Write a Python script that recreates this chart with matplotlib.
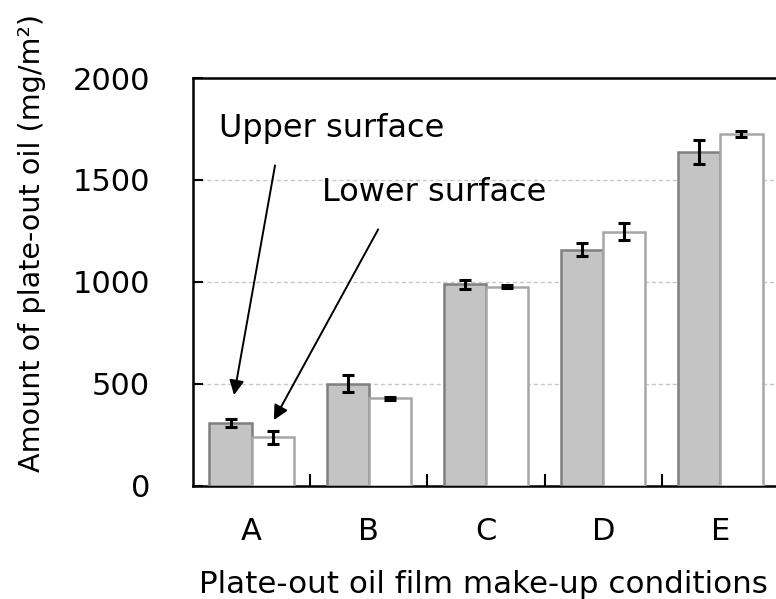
import numpy as np
import matplotlib
matplotlib.use("Agg")
import matplotlib.pyplot as plt

categories = ["A", "B", "C", "D", "E"]
upper_vals = [305, 500, 988, 1158, 1636]
upper_err = [20, 43, 22, 34, 58]
lower_vals = [236, 428, 976, 1246, 1726]
lower_err = [30, 8, 6, 40, 15]
yticks = [0, 500, 1000, 1500, 2000]

plt.rcParams["font.family"] = ["DejaVu Sans"]
FS = 22

W, H = 776, 599
fig = plt.figure(figsize=(W / 100, H / 100), dpi=100)
ax = fig.add_axes([193 / W, (H - 485.5) / H, 586 / W, (485.5 - 78) / H])

x = np.arange(len(categories))
bw = 0.36
ax.bar(x - bw / 2, upper_vals, bw, color="#c4c4c4", edgecolor="#7f7f7f",
       linewidth=1.8, zorder=3)
ax.bar(x + bw / 2, lower_vals, bw, color="white", edgecolor="#a6a6a6",
       linewidth=1.8, zorder=3)
ax.errorbar(x - bw / 2, upper_vals, yerr=upper_err, fmt="none", ecolor="black",
            elinewidth=2.2, capsize=4.5, capthick=2.2, zorder=4)
ax.errorbar(x + bw / 2, lower_vals, yerr=lower_err, fmt="none", ecolor="black",
            elinewidth=2.2, capsize=4.5, capthick=2.2, zorder=4)

ax.set_xlim(-0.5, len(categories) - 0.5)
ax.set_ylim(0, 2000)
ax.set_yticks(yticks)
ax.set_yticklabels([str(v) for v in yticks], fontsize=FS)
for v in yticks[1:-1]:
    ax.axhline(v, color="#c8c8c8", linestyle=(0, (3, 2)), linewidth=1.0, zorder=1)

# boundary ticks between groups, labels centred under each group
ax.set_xticks(x[:-1] + 0.5)
ax.set_xticklabels([])
ax.set_xticks(x, minor=True)
ax.set_xticklabels(categories, minor=True, fontsize=FS)
ax.tick_params(axis="x", which="major", direction="in", length=9, width=1.5)
ax.tick_params(axis="x", which="minor", length=0, pad=23)
ax.tick_params(axis="y", direction="in", length=7, width=1.5, pad=31)

for side in ("left", "top", "bottom"):
    ax.spines[side].set_linewidth(1.8)
    ax.spines[side].set_color("black")
ax.spines["right"].set_visible(False)

ax.set_xlabel("Plate-out oil film make-up conditions", fontsize=22.3)
ax.xaxis.set_label_coords(0.495, -0.208)
ax.set_ylabel("Amount of plate-out oil (mg/m²)", fontsize=20.6)
ax.yaxis.set_label_coords(-0.25, 0.595)

ax.text(-0.28, 1752, "Upper surface", fontsize=23, ha="left", va="center")
ax.text(0.60, 1439, "Lower surface", fontsize=23, ha="left", va="center")
arrow = dict(arrowstyle="-|>", color="black", lw=1.4, mutation_scale=22,
             shrinkA=0, shrinkB=0)
ax.annotate("", xy=(-0.15, 444), xytext=(0.20, 1571), arrowprops=arrow)
ax.annotate("", xy=(0.19, 321), xytext=(1.08, 1257), arrowprops=arrow)

fig.savefig("out.png", dpi=100, facecolor="white")
